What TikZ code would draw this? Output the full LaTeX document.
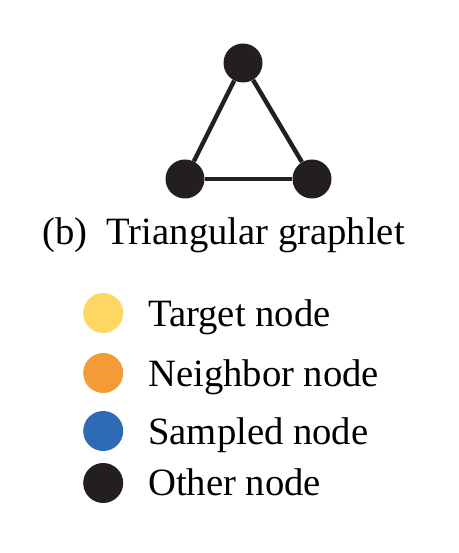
\documentclass[tikz,border=0pt]{standalone}
\usepackage{fontspec}
\setmainfont{Liberation Serif}
\usepackage{tikz}
\usetikzlibrary{positioning}
\definecolor{target}{HTML}{FDD663}
\definecolor{neigh}{HTML}{F49A36}
\definecolor{sampled}{HTML}{2E6BB5}
\definecolor{other}{HTML}{231F20}

\begin{document}
\begin{tikzpicture}[x=1cm, y=1cm,
    gnode/.style={circle, fill=other, inner sep=0pt, minimum size=0.975cm},
    gedge/.style={other, line width=0.11cm},
    ldot/.style={circle, inner sep=0pt, minimum size=1cm},
    ltext/.style={anchor=base west, inner sep=0pt, font=\fontsize{27.5}{32}\selectfont}]
  \useasboundingbox (0,0) rectangle (11.45,13.825);
  % triangle
  \node[gnode] (top) at (6.075,12.25) {};
  \node[gnode] (left) at (4.625,9.35) {};
  \node[gnode] (right) at (7.8,9.35) {};
  \draw[gedge] (top) -- (left);
  \draw[gedge] (left) -- (right);
  \draw[gedge] (right) -- (top);
  \node[ltext] (cap) at (1.05,7.7) {(b)\hspace{0.5em}Triangular graphlet};
  % legend
  \foreach \k/\yd/\yt/\col/\txt in {1/6.0/5.65/target/Target node,
                                    2/4.5/4.15/neigh/Neighbor node,
                                    3/3.05/2.7/sampled/Sampled node,
                                    4/1.75/1.425/other/Other node}{
    \node[ldot, fill=\col] (dot\k) at (2.58,\yd) {};
    \node[ltext] (lab\k) at (3.7,\yt) {\txt};}
\end{tikzpicture}
\end{document}
